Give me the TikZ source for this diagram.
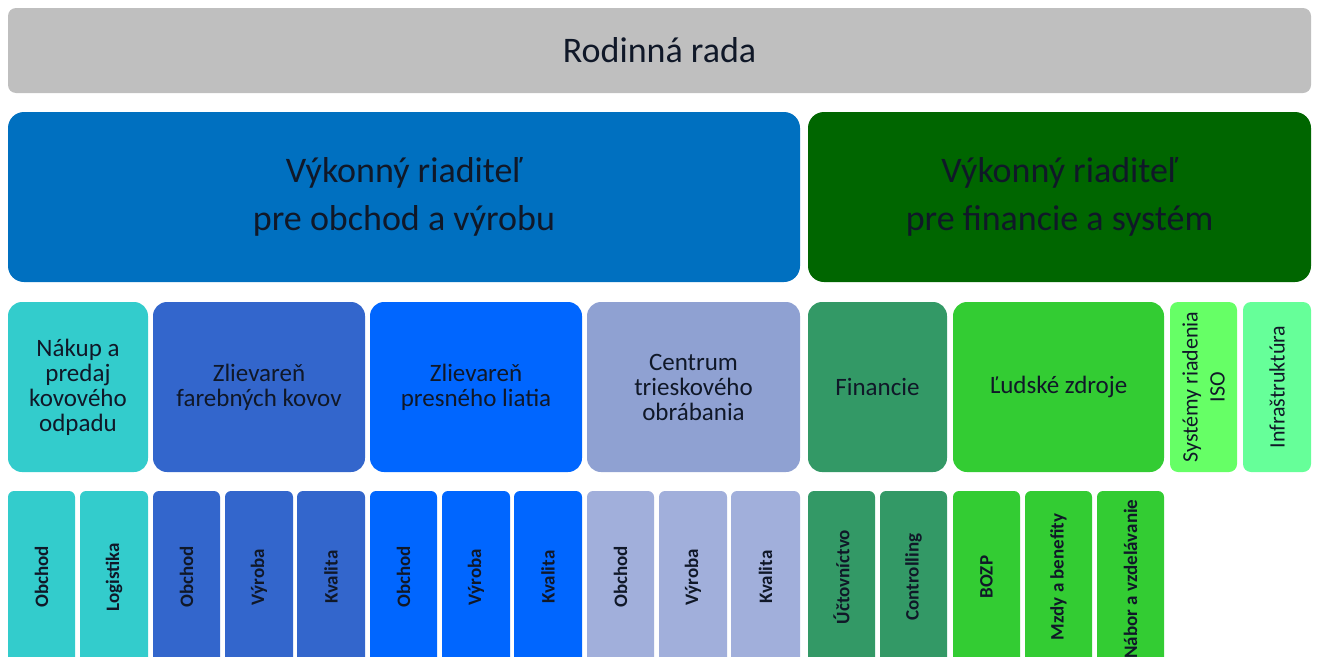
\documentclass[tikz,border=0pt]{standalone}
\usepackage{fontspec}
\setmainfont{Carlito}
\usepackage{xcolor}
\usepackage{tikz}

\definecolor{rada}{HTML}{BFBFBF}
\definecolor{obchodmodra}{HTML}{0070C0}
\definecolor{financzelena}{HTML}{006600}
\definecolor{odpad}{HTML}{33CCCC}
\definecolor{farebne}{HTML}{3366CC}
\definecolor{presne}{HTML}{0066FF}
\definecolor{trieskove}{HTML}{8FA1D2}
\definecolor{trieskovesvetle}{HTML}{A1AFDB}
\definecolor{financie}{HTML}{339966}
\definecolor{ludia}{HTML}{33CC33}
\definecolor{iso}{HTML}{66FF66}
\definecolor{infra}{HTML}{66FF99}
\definecolor{pismo}{HTML}{101828}

\tikzset{
  box/.style={rounded corners=#1, inner sep=0pt, align=center, text=pismo},
  velke/.style={font=\fontsize{36}{48}\selectfont},
  stredne/.style={font=\fontsize{25}{25}\selectfont},
  zvisle/.style={font=\fontsize{22}{27}\selectfont},
  male/.style={font=\bfseries\fontsize{19}{22}\selectfont},
}

\begin{document}
\begin{tikzpicture}[x=1pt,y=-1pt]
			\useasboundingbox (0,0) rectangle (1317,656);
			\clip (0,0) rectangle (1317,656);
			
			% rada
			\node[box=8pt,fill=rada,velke,minimum width=1303pt,minimum height=85pt] (rada) at (659.5,50.5) {Rodinná rada};
			
			% vykonni riaditelia
			\node[box=16pt,fill=obchodmodra,velke,minimum width=792pt,minimum height=170pt] (vro) at (404,197) {Výkonný riaditeľ\\pre obchod a výrobu};
			\node[box=16pt,fill=financzelena,velke,minimum width=503pt,minimum height=170pt] (vrf) at (1059.5,197) {Výkonný riaditeľ\\pre financie a systém};
			
			% useky
			\foreach \xa/\xb/\col/\txt/\meno in {
				8/148/odpad/Nákup a\\predaj\\kovového\\odpadu/odpad,
				153/365/farebne/Zlievareň\\farebných kovov/farebne,
				370/582/presne/Zlievareň\\presného liatia/presne,
				587/800/trieskove/Centrum\\trieskového\\obrábania/trieskove,
				808/947/financie/Financie/financie,
				953/1164/ludia/Ľudské zdroje/ludia
			}
			\node[box=14pt,fill=\col,stredne,minimum width={(\xb-\xa)*1pt},minimum height=170pt] (\meno) at ({(\xa+\xb)/2},387) {\txt};
			
			\node[box=8pt,fill=iso,zvisle,rotate=90,minimum width=170pt,minimum height=67pt] (iso) at (1203.5,387) {Systémy riadenia\\ISO};
			\node[box=8pt,fill=infra,zvisle,rotate=90,minimum width=170pt,minimum height=68pt] (infra) at (1277,387) {Infraštruktúra};
			
			% oddelenia
			\foreach \xa/\xb/\col/\txt [count=\i] in {
				8/75/odpad/Obchod,
				80/148/odpad/Logistika,
				153/220/farebne/Obchod,
				225/293/farebne/Výroba,
				297/365/farebne/Kvalita,
				370/437/presne/Obchod,
				442/510/presne/Výroba,
				514/582/presne/Kvalita,
				587/654/trieskovesvetle/Obchod,
				659/727/trieskovesvetle/Výroba,
				731/800/trieskovesvetle/Kvalita,
				808/875/financie/Účtovníctvo,
				880/947/financie/Controlling,
				953/1020/ludia/BOZP,
				1025/1092/ludia/Mzdy a benefity,
				1097/1164/ludia/Nábor a vzdelávanie
			}
			\node[box=6pt,fill=\col,male,rotate=90,minimum width=172pt,minimum height={(\xb-\xa)*1pt}] (odd\i) at ({(\xa+\xb)/2},577) {\txt};
\end{tikzpicture}
\end{document}
